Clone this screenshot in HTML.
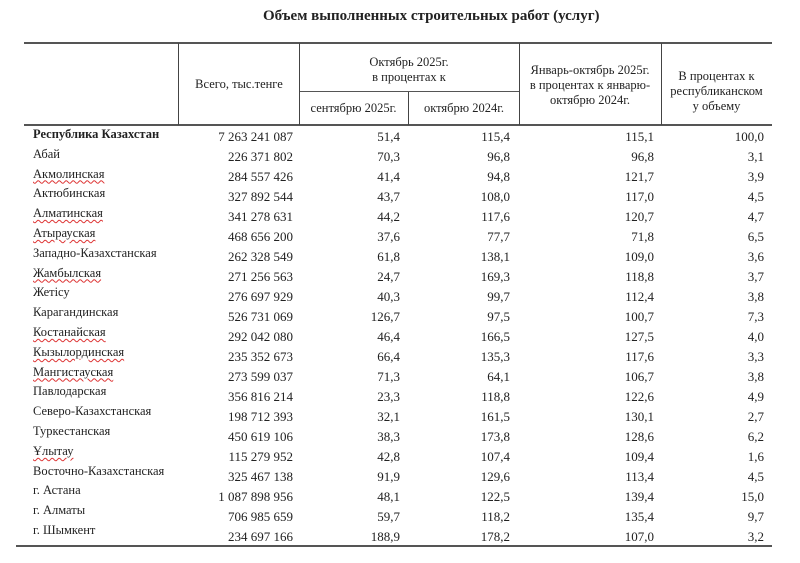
<!DOCTYPE html>
<html><head><meta charset="utf-8"><style>
body{margin:0;width:800px;height:563px;background:#fff;position:relative;overflow:hidden;font-family:"Liberation Serif",serif;color:#222;font-size:13px}
div{position:absolute;white-space:nowrap}
#rows{left:0;top:0;width:800px;height:563px}
.h{background:#555}
.v{background:#444;width:1px}
.c{text-align:center;line-height:15px;font-size:12.5px}
.n{left:33px;line-height:14px;font-size:12.5px}
.r{text-align:right;line-height:14px;width:120px}
.u{text-decoration:underline wavy #d33;text-decoration-thickness:1px;text-underline-offset:2px}
</style></head><body>
<div style="left:263px;top:8px;font-weight:bold;font-size:15px">Объем выполненных строительных работ (услуг)</div>
<div class="h" style="left:24px;top:42px;width:748px;height:2px"></div>
<div class="h" style="left:24px;top:124px;width:748px;height:2px"></div>
<div class="h" style="left:299px;top:91px;width:220px;height:1px"></div>
<div class="h" style="left:16px;top:545px;width:756px;height:2px"></div>
<div class="v" style="left:178px;top:43px;height:82px"></div>
<div class="v" style="left:299px;top:43px;height:82px"></div>
<div class="v" style="left:519px;top:43px;height:82px"></div>
<div class="v" style="left:661px;top:43px;height:82px"></div>
<div class="v" style="left:408px;top:92px;height:33px"></div>
<div class="c" style="left:179px;width:120px;top:77px">Всего, тыс.тенге</div>
<div class="c" style="left:299px;width:220px;top:55px">Октябрь 2025г.<br>в процентах к</div>
<div class="c" style="left:299px;width:109px;top:101px">сентябрю 2025г.</div>
<div class="c" style="left:409px;width:110px;top:101px">октябрю 2024г.</div>
<div class="c" style="left:519px;width:142px;top:63px">Январь-октябрь 2025г.<br>в процентах к январю-<br>октябрю 2024г.</div>
<div class="c" style="left:661px;width:111px;top:69px">В процентах к<br>республиканском<br>у объему</div>
<div id="rows"></div>
<script>
var d=[["Республика Казахстан","7 263 241 087","51,4","115,4","115,1","100,0",0],
["Абай","226 371 802","70,3","96,8","96,8","3,1",0],
["Акмолинская","284 557 426","41,4","94,8","121,7","3,9",1],
["Актюбинская","327 892 544","43,7","108,0","117,0","4,5",0],
["Алматинская","341 278 631","44,2","117,6","120,7","4,7",1],
["Атырауская","468 656 200","37,6","77,7","71,8","6,5",1],
["Западно-Казахстанская","262 328 549","61,8","138,1","109,0","3,6",0],
["Жамбылская","271 256 563","24,7","169,3","118,8","3,7",1],
["Жетісу","276 697 929","40,3","99,7","112,4","3,8",0],
["Карагандинская","526 731 069","126,7","97,5","100,7","7,3",0],
["Костанайская","292 042 080","46,4","166,5","127,5","4,0",1],
["Кызылординская","235 352 673","66,4","135,3","117,6","3,3",1],
["Мангистауская","273 599 037","71,3","64,1","106,7","3,8",1],
["Павлодарская","356 816 214","23,3","118,8","122,6","4,9",0],
["Северо-Казахстанская","198 712 393","32,1","161,5","130,1","2,7",0],
["Туркестанская","450 619 106","38,3","173,8","128,6","6,2",0],
["Ұлытау","115 279 952","42,8","107,4","109,4","1,6",1],
["Восточно-Казахстанская","325 467 138","91,9","129,6","113,4","4,5",0],
["г. Астана","1 087 898 956","48,1","122,5","139,4","15,0",0],
["г. Алматы","706 985 659","59,7","118,2","135,4","9,7",0],
["г. Шымкент","234 697 166","188,9","178,2","107,0","3,2",0]];
var R=[293,400,510,654,764],h="";
d.forEach(function(r,i){var ny=134+i*19.8-7,vy=137+i*20-7;
h+='<div class="n'+(r[6]?' u':'')+'" style="top:'+ny+'px'+(i==0?';font-weight:bold':'')+'">'+r[0]+'</div>';
for(var k=0;k<5;k++)h+='<div class="r" style="left:'+(R[k]-120)+'px;top:'+vy+'px">'+r[k+1]+'</div>';});
document.getElementById("rows").innerHTML=h;
</script>
</body></html>
